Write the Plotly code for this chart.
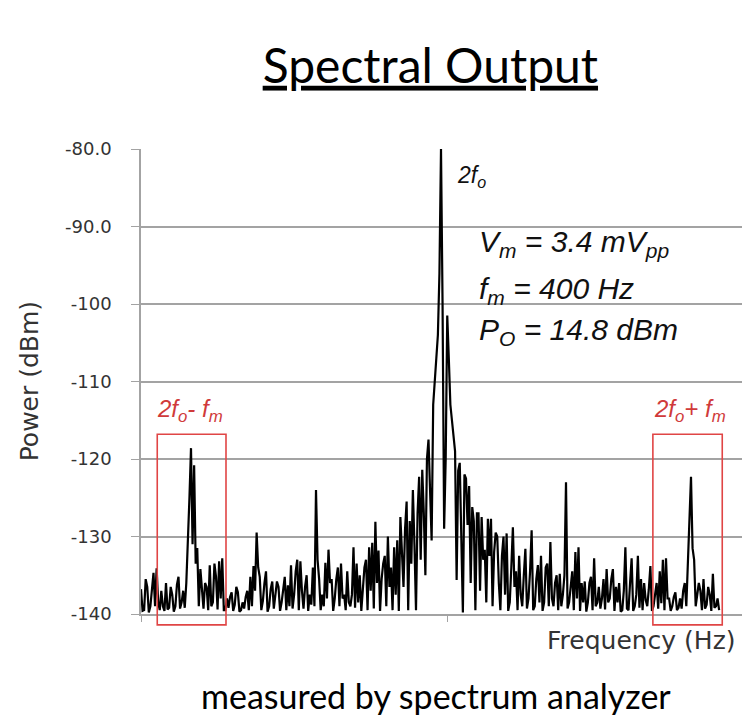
import numpy as np
import plotly.graph_objects as go

# ---- data ----
freq_start_hz = -480
freq_step_hz = 2.5
power_dbm = [
    -136.8, -139.6, -139.5, -135.5, -136.5, -139.8, -139.0, -136.8, -134.7, -139.0,
    -134.1, -138.5, -139.5, -137.0, -139.0, -139.6, -136.0, -139.4, -139.2, -136.5,
    -137.5, -139.7, -139.0, -136.2, -135.2, -139.3, -138.5, -137.0, -139.2, -136.0,
    -131.5, -125.0, -118.6, -131.0, -120.8, -133.5, -131.5, -139.0, -134.2, -137.5,
    -139.3, -136.0, -136.5, -139.5, -133.7, -139.0, -138.5, -133.5, -135.2, -139.4,
    -133.2, -138.0, -132.8, -139.5, -139.5, -138.0, -139.2, -137.8, -137.2, -139.6,
    -138.8, -136.5, -137.2, -139.7, -139.5, -138.5, -139.3, -137.8, -137.0, -139.5,
    -135.2, -139.0, -133.8, -137.0, -129.5, -134.0, -135.2, -139.5, -138.3, -136.0,
    -134.5, -139.7, -139.0, -136.8, -135.8, -139.3, -137.5, -135.8, -136.5, -139.6,
    -138.5, -137.0, -135.2, -139.5, -136.3, -139.0, -133.7, -139.3, -137.5, -134.5,
    -133.0, -139.5, -133.2, -137.0, -139.3, -136.5, -135.0, -139.6, -137.5, -138.8,
    -134.0, -139.0, -124.0, -133.0, -135.5, -139.5, -137.5, -139.0, -133.4, -138.0,
    -131.7, -136.0, -135.5, -139.6, -138.0, -135.5, -134.0, -139.0, -133.5, -138.0,
    -137.5, -139.5, -134.5, -138.5, -139.0, -137.5, -131.4, -139.2, -133.5, -138.5,
    -135.0, -139.6, -137.0, -134.0, -133.0, -139.5, -131.4, -137.0, -130.8, -139.3,
    -128.1, -136.0, -131.8, -139.6, -135.5, -133.5, -132.5, -139.0, -130.0, -136.5,
    -134.0, -139.5, -131.4, -137.5, -130.5, -139.6, -127.5, -133.0, -136.5, -129.0,
    -125.5, -139.5, -128.0, -133.5, -124.0, -131.0, -139.5, -127.0, -122.3, -133.0,
    -121.4, -127.0, -135.0, -120.0, -117.5, -124.0, -130.5, -113.0, -110.0, -106.5,
    -104.0, -96.0, -80.0, -100.0, -129.0, -120.0, -101.5, -107.0, -113.0, -115.0,
    -116.7, -119.0, -135.6, -121.5, -120.5, -130.0, -139.8, -122.0, -122.5, -128.5,
    -123.5, -136.0, -126.2, -128.0, -139.5, -127.0, -127.0, -137.0, -127.5, -133.0,
    -131.7, -138.5, -127.7, -132.5, -127.7, -139.0, -132.0, -129.5, -130.0, -136.0,
    -139.5, -132.5, -130.0, -137.5, -129.6, -139.6, -138.5, -134.0, -128.8, -136.5,
    -134.5, -139.5, -132.5, -137.5, -139.0, -135.0, -131.6, -139.3, -138.0, -134.5,
    -129.2, -139.5, -139.0, -135.5, -133.7, -138.5, -132.5, -139.6, -138.5, -134.0,
    -133.5, -139.0, -130.7, -138.0, -139.0, -136.0, -135.0, -139.5, -134.8, -139.0,
    -137.5, -135.0, -123.0, -139.3, -138.5, -136.5, -134.5, -139.5, -132.0, -138.0,
    -131.4, -139.6, -136.0, -138.5, -135.8, -139.7, -138.5, -136.0, -135.2, -139.5,
    -132.8, -139.0, -138.5, -136.5, -139.3, -138.0, -135.5, -139.4, -134.2, -138.5,
    -138.0, -135.5, -134.2, -139.6, -136.5, -138.5, -136.0, -139.7, -139.5, -137.0,
    -131.4, -139.3, -139.5, -136.0, -132.8, -139.6, -139.0, -137.5, -132.5, -139.2,
    -135.5, -139.5, -136.0, -138.2, -139.0, -136.8, -133.8, -139.6, -139.0, -137.5,
    -136.0, -139.3, -134.5, -138.6, -133.0, -139.5, -132.8, -138.0, -138.0, -139.6,
    -139.0, -137.8, -137.2, -139.5, -139.2, -138.0, -139.3, -137.0, -136.0, -139.0,
    -133.0, -127.0, -122.3, -131.5, -133.0, -139.0, -137.5, -136.0, -137.0, -139.5,
    -135.5, -139.3, -138.8, -136.5, -137.5, -139.6, -134.8, -139.2, -139.0, -138.0,
    -139.5,
]
freq_hz = freq_start_hz + freq_step_hz * np.arange(len(power_dbm))

y_tickvals = [-80, -90, -100, -110, -120, -130, -140]
y_ticktext = ["-80.0", "-90.0", "-100", "-110", "-120", "-130", "-140"]
x_tickvals = [-480, 10]

x_range = [-480, 481.6]
y_range = [-140, -80]

# highlighted sideband boxes (freq span, power span)
boxes = [(-454, -344, -116.8, -141.4), (339, 450, -116.8, -141.4)]

GRID = "#a3a3a3"
RED = "#d03a3a"


def px(f):
    return (f - x_range[0]) / (x_range[1] - x_range[0])


def py(p):
    return (p - y_range[0]) / (y_range[1] - y_range[0])


fig = go.Figure()
fig.add_trace(go.Scatter(x=freq_hz, y=power_dbm, mode="lines",
                         line=dict(color="black", width=2.2),
                         showlegend=False, hoverinfo="skip"))

shapes = []
for f0, f1, p0, p1 in boxes:
    shapes.append(dict(type="rect", xref="paper", yref="paper",
                       x0=px(f0), x1=px(f1), y0=py(p1), y1=py(p0),
                       line=dict(color="#e04545", width=1.6)))

ann_font = dict(family="Liberation Sans", color="#111111")
annotations = [
    dict(x=22, y=-83.6, xref="x", yref="y", xanchor="left", yanchor="middle",
         text="<i>2f<sub>o</sub></i>", showarrow=False,
         font=dict(size=23, **ann_font)),
    dict(x=57, y=-92.2, xref="x", yref="y", xanchor="left", yanchor="middle",
         text="<i>V<sub>m</sub> = 3.4 mV<sub>pp</sub></i>", showarrow=False,
         font=dict(size=30, **ann_font)),
    dict(x=57, y=-98.2, xref="x", yref="y", xanchor="left", yanchor="middle",
         text="<i>f<sub>m</sub> = 400 Hz</i>", showarrow=False,
         font=dict(size=30, **ann_font)),
    dict(x=57, y=-103.6, xref="x", yref="y", xanchor="left", yanchor="middle",
         text="<i>P<sub>O</sub> = 14.8 dBm</i>", showarrow=False,
         font=dict(size=30, **ann_font)),
    dict(x=-401, y=-113.8, xref="x", yref="y", xanchor="center", yanchor="middle",
         text="<i>2f<sub>o</sub>- f<sub>m</sub></i>", showarrow=False,
         font=dict(size=24, family="Liberation Sans", color=RED)),
    dict(x=398, y=-113.8, xref="x", yref="y", xanchor="center", yanchor="middle",
         text="<i>2f<sub>o</sub>+ f<sub>m</sub></i>", showarrow=False,
         font=dict(size=24, family="Liberation Sans", color=RED)),
    dict(x=1, y=0, xref="paper", yref="paper", xanchor="right", yanchor="middle",
         xshift=-4, yshift=-26, text="Frequency (Hz)", showarrow=False,
         font=dict(size=25, family="DejaVu Sans", color="#333333")),
    dict(x=-0.185, y=0.5, xref="paper", yref="paper", xanchor="center",
         yanchor="middle", textangle=-90, text="Power (dBm)", showarrow=False,
         font=dict(size=25, family="DejaVu Sans", color="#333333")),
    dict(x=0.491, y=0, xref="paper", yref="paper", xanchor="center",
         yanchor="middle", yshift=-81, text="measured by spectrum analyzer",
         showarrow=False, font=dict(size=34, family="Lato", color="black")),
]

fig.update_layout(
    width=742, height=717,
    margin=dict(l=141, r=0, t=149, b=103),
    paper_bgcolor="white", plot_bgcolor="white",
    title=dict(text="<u>Spectral Output</u>", x=0.58, xref="container",
               xanchor="center", y=0.908, yref="container", yanchor="middle",
               font=dict(family="Lato", size=48, color="black")),
    shapes=shapes, annotations=annotations,
    xaxis=dict(range=x_range, showgrid=False, zeroline=False, showline=True,
               linecolor=GRID, linewidth=1.5, ticks="outside", ticklen=6,
               tickcolor=GRID, tickwidth=1.2, tickvals=x_tickvals,
               showticklabels=False),
    yaxis=dict(range=y_range, showgrid=True, gridcolor=GRID, gridwidth=1.5,
               zeroline=False, showline=True, linecolor=GRID, linewidth=1.5,
               ticks="outside", ticklen=8, tickcolor=GRID, tickwidth=1.2,
               tickvals=y_tickvals, ticktext=y_ticktext,
               ticklabelstandoff=16,
               tickfont=dict(family="DejaVu Sans", size=18, color="#333333")),
)

fig.write_html(
    "out.html",
    config={"displayModeBar": False},
    post_script="document.body.style.margin='0';"
                "document.body.style.overflow='hidden';",
)
